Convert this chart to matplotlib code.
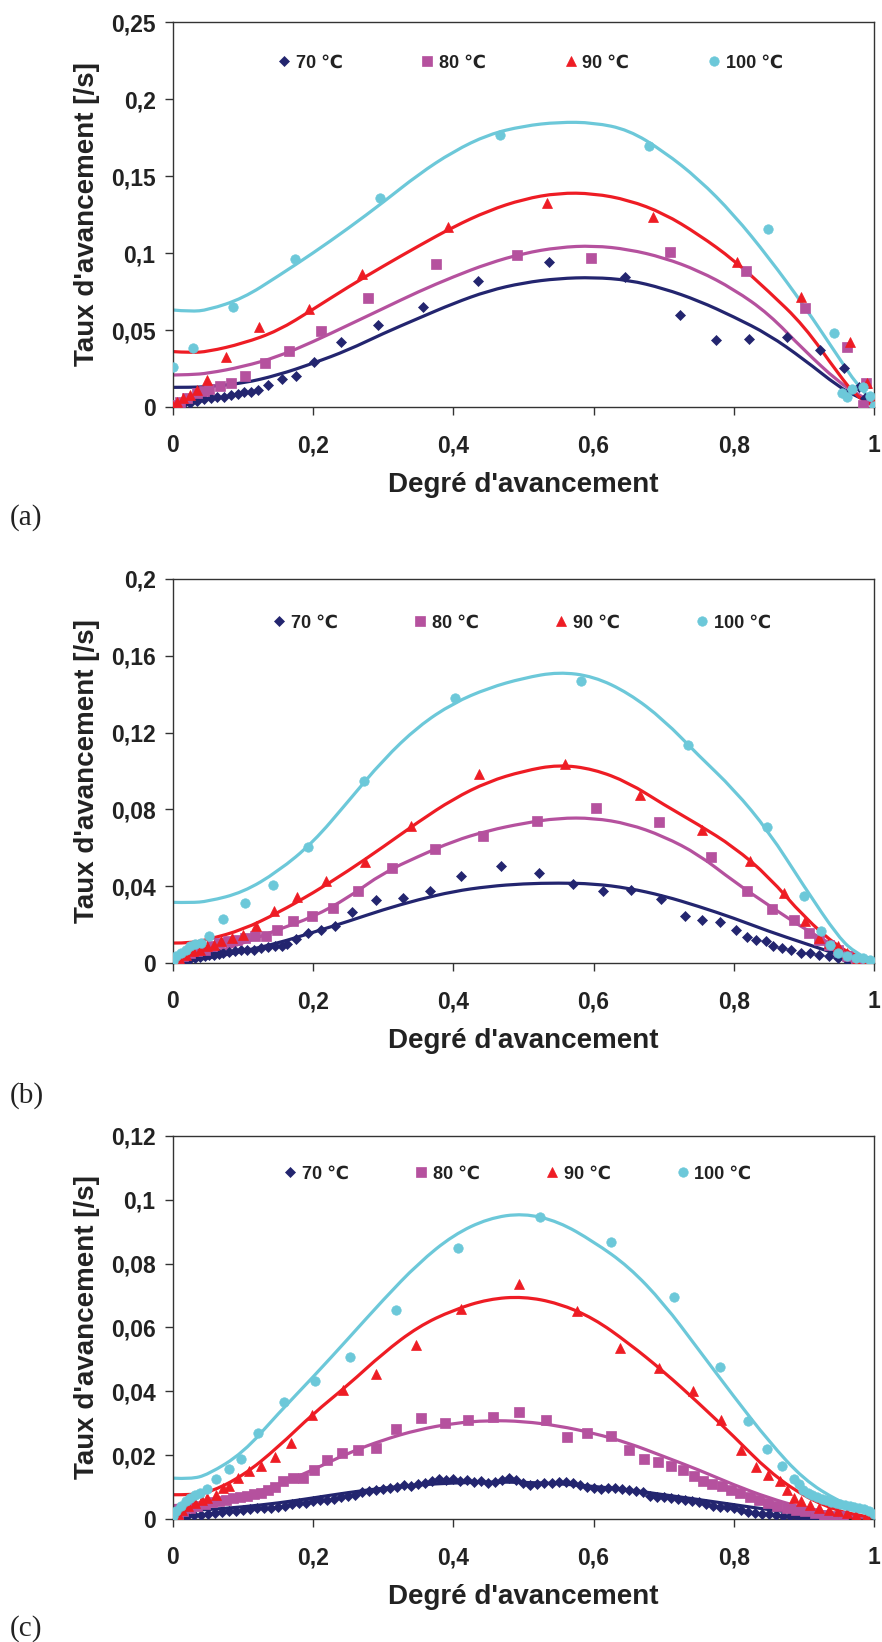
import matplotlib
matplotlib.use('Agg')
import matplotlib.pyplot as plt
from matplotlib.path import Path
from matplotlib.patches import PathPatch

# Fonts: Arial-like bold, DejaVu as fallback for the ℃ sign
plt.rcParams['font.family'] = ['Liberation Sans', 'DejaVu Sans']
plt.rcParams['font.weight'] = 'bold'

# Colours of the four temperatures
c70 = '#23256F'
c80 = '#B5519E'
c90 = '#EE1C24'
c100 = '#6CC8D9'

labels = ['70 ℃', '80 ℃', '90 ℃', '100 ℃']
x_ticks = [0, 0.2, 0.4, 0.6, 0.8, 1.0]

# x positions where the fitted curves were read
fit_x = [0, 0.025, 0.05, 0.1, 0.15, 0.2, 0.25, 0.3, 0.35, 0.4, 0.45, 0.5,
         0.55, 0.6, 0.65, 0.7, 0.75, 0.8, 0.85, 0.9, 0.95, 0.975, 1.0]

# ---------------- panel (a) ----------------
a_x70 = [0.004, 0.014, 0.024, 0.034, 0.044, 0.054, 0.063, 0.073, 0.083, 0.093, 0.102,
         0.112, 0.121, 0.135, 0.155, 0.175, 0.201, 0.24, 0.293, 0.356, 0.435, 0.536,
         0.645, 0.724, 0.775, 0.822, 0.876, 0.923, 0.957, 0.978, 0.987]
a_y70 = [0.0006, 0.002, 0.0028, 0.0039, 0.005, 0.0056, 0.0063, 0.0067, 0.0076, 0.0084, 0.0095,
         0.010, 0.011, 0.0143, 0.018, 0.0204, 0.0294, 0.042, 0.0533, 0.0652, 0.0818, 0.094,
         0.0842, 0.0598, 0.0435, 0.0442, 0.0457, 0.037, 0.0251, 0.0132, 0.0056]
a_x80 = [0.0, 0.01, 0.02, 0.034, 0.044, 0.052, 0.067, 0.083, 0.103, 0.131, 0.165,
         0.211, 0.278, 0.375, 0.491, 0.596, 0.709, 0.818, 0.902, 0.961, 0.988, 0.985]
a_y80 = [0.0013, 0.0035, 0.0056, 0.0089, 0.0106, 0.0115, 0.0136, 0.0154, 0.0204, 0.0288, 0.0364,
         0.0496, 0.0706, 0.0927, 0.0987, 0.097, 0.1005, 0.0883, 0.0641, 0.0392, 0.0154, 0.0013]
a_x90 = [0.0, 0.006, 0.014, 0.024, 0.034, 0.048, 0.075, 0.123, 0.194, 0.27, 0.393,
         0.533, 0.685, 0.805, 0.896, 0.966, 0.99, 1.0]
a_y90 = [0.001, 0.0035, 0.0056, 0.0078, 0.011, 0.0175, 0.0327, 0.0522, 0.0636, 0.0862, 0.117,
         0.1327, 0.1236, 0.0944, 0.0717, 0.042, 0.0154, 0.0024]
a_x100 = [0.0, 0.029, 0.085, 0.174, 0.296, 0.467, 0.679, 0.849, 0.943, 0.955, 0.961,
          0.968, 0.985, 0.994, 1.0]
a_y100 = [0.0262, 0.0385, 0.065, 0.0959, 0.136, 0.1766, 0.1697, 0.1154, 0.0483, 0.0089, 0.0063,
          0.0115, 0.0128, 0.0071, 0.0006]

a_f70 = [0.0128, 0.0128, 0.0132, 0.0154, 0.0208, 0.0284, 0.037, 0.0478, 0.0576, 0.0673, 0.0755, 0.0807,
         0.0835, 0.0842, 0.0825, 0.077, 0.069, 0.0586, 0.047, 0.031, 0.013, 0.007, 0.002]
a_f80 = [0.0208, 0.021, 0.0219, 0.0262, 0.0327, 0.0424, 0.0532, 0.064, 0.0749, 0.0846, 0.0933, 0.0998,
         0.1037, 0.1048, 0.1024, 0.097, 0.0885, 0.0765, 0.0605, 0.037, 0.016, 0.009, 0.002]
a_f90 = [0.036, 0.0353, 0.036, 0.0413, 0.0495, 0.0635, 0.078, 0.0915, 0.1045, 0.117, 0.1275, 0.135,
         0.139, 0.1387, 0.1344, 0.1258, 0.112, 0.0955, 0.075, 0.053, 0.021, 0.007, 0.0005]
a_f100 = [0.063, 0.062, 0.063, 0.0706, 0.085, 0.1, 0.116, 0.133, 0.151, 0.166, 0.177, 0.1825,
          0.185, 0.1847, 0.180, 0.166, 0.148, 0.125, 0.097, 0.066, 0.032, 0.015, 0.003]

# ---------------- panel (b) ----------------
b_x70 = [0.0, 0.005, 0.012, 0.019, 0.025, 0.032, 0.039, 0.045, 0.052, 0.058,
         0.065, 0.072, 0.08, 0.088, 0.097, 0.106, 0.116, 0.125, 0.135, 0.145,
         0.155, 0.163, 0.176, 0.193, 0.211, 0.231, 0.255, 0.29, 0.328, 0.366,
         0.411, 0.468, 0.522, 0.57, 0.613, 0.654, 0.696, 0.73, 0.754, 0.781,
         0.803, 0.819, 0.832, 0.846, 0.856, 0.869, 0.882, 0.896, 0.909, 0.922,
         0.936, 0.949, 0.962, 0.975]
b_y70 = [0.0, 0.0003, 0.0009, 0.0017, 0.0021, 0.0026, 0.0031, 0.0035, 0.004, 0.0043,
         0.0049, 0.0052, 0.0056, 0.0061, 0.0066, 0.0069, 0.0069, 0.0078, 0.0083, 0.0087,
         0.009, 0.010, 0.0127, 0.0156, 0.0174, 0.0194, 0.0266, 0.0326, 0.0339, 0.0373,
         0.0455, 0.0507, 0.0469, 0.0411, 0.0377, 0.0382, 0.0335, 0.0247, 0.0222, 0.0214,
         0.0174, 0.0135, 0.0122, 0.0113, 0.009, 0.0078, 0.0069, 0.0052, 0.0052, 0.0043,
         0.0035, 0.0026, 0.0017, 0.0009]
b_x80 = [0.0, 0.007, 0.015, 0.025, 0.035, 0.045, 0.055, 0.065, 0.078, 0.092,
         0.103, 0.117, 0.133, 0.149, 0.171, 0.199, 0.228, 0.264, 0.312, 0.374,
         0.442, 0.519, 0.603, 0.694, 0.767, 0.819, 0.854, 0.886, 0.908, 0.921,
         0.936, 0.949, 0.962, 0.975, 0.989]
b_y80 = [0.0009, 0.0017, 0.0035, 0.0052, 0.0061, 0.0069, 0.0087, 0.0104, 0.0113, 0.0122,
         0.013, 0.0139, 0.0139, 0.017, 0.022, 0.0247, 0.0286, 0.0373, 0.0495, 0.0594,
         0.0663, 0.0738, 0.0807, 0.0734, 0.0552, 0.0373, 0.0283, 0.0226, 0.0156, 0.0122,
         0.0095, 0.0069, 0.0035, 0.0017, 0.0009]
b_x90 = [0.0, 0.009, 0.019, 0.029, 0.039, 0.049, 0.058, 0.068, 0.084, 0.1,
         0.118, 0.144, 0.177, 0.219, 0.274, 0.34, 0.437, 0.559, 0.666, 0.755,
         0.823, 0.872, 0.902, 0.922, 0.936, 0.949, 0.962, 0.975, 0.989]
b_y90 = [0.0, 0.0026, 0.0043, 0.0061, 0.0069, 0.0087, 0.0095, 0.0113, 0.013, 0.0148,
         0.0194, 0.0269, 0.0342, 0.0425, 0.0524, 0.0715, 0.0984, 0.1036, 0.0877, 0.0691,
         0.053, 0.0365, 0.022, 0.013, 0.0104, 0.0087, 0.0052, 0.0009, 0.0]
b_x100 = [0.0, 0.005, 0.012, 0.019, 0.025, 0.032, 0.04, 0.052, 0.072, 0.103,
          0.142, 0.193, 0.273, 0.402, 0.582, 0.735, 0.847, 0.9, 0.924, 0.937,
          0.949, 0.962, 0.975, 0.985, 0.995]
b_y100 = [0.0009, 0.0035, 0.0052, 0.0069, 0.0087, 0.01, 0.0104, 0.0142, 0.0229, 0.0312,
          0.0408, 0.0602, 0.0946, 0.1378, 0.1467, 0.1137, 0.0707, 0.0347, 0.0165, 0.0095,
          0.0052, 0.0035, 0.0026, 0.0026, 0.0017]

b_f70 = [0.0, 0.0013, 0.0026, 0.0061, 0.0104, 0.016, 0.0217, 0.0278, 0.033, 0.0373, 0.0399, 0.0413,
         0.0417, 0.0413, 0.039, 0.035, 0.0295, 0.0234, 0.0165, 0.0104, 0.0043, 0.002, 0.0003]
b_f80 = [0.0, 0.002, 0.0043, 0.0104, 0.0174, 0.024, 0.034, 0.047, 0.0555, 0.0635, 0.069, 0.0728,
         0.0755, 0.0755, 0.0725, 0.066, 0.0565, 0.0425, 0.03, 0.018, 0.0075, 0.0035, 0.0009]
b_f90 = [0.0104, 0.0104, 0.0122, 0.0174, 0.0262, 0.0365, 0.048, 0.0605, 0.0735, 0.0855, 0.0945, 0.1,
         0.1033, 0.101, 0.094, 0.0825, 0.072, 0.0605, 0.045, 0.024, 0.008, 0.004, 0.001]
b_f100 = [0.0316, 0.0314, 0.0321, 0.0368, 0.0477, 0.0628, 0.0842, 0.1059, 0.1233, 0.1354, 0.1432, 0.1484,
          0.1516, 0.1493, 0.1406, 0.1267, 0.108, 0.0905, 0.0685, 0.04, 0.013, 0.005, 0.001]

# ---------------- panel (c) ----------------
c_x70 = [0.0, 0.01, 0.02, 0.03, 0.04, 0.05, 0.06, 0.07, 0.08, 0.09,
         0.1, 0.11, 0.12, 0.13, 0.14, 0.15, 0.16, 0.17, 0.18, 0.19,
         0.2, 0.21, 0.22, 0.23, 0.24, 0.25, 0.26, 0.27, 0.28, 0.29,
         0.3, 0.31, 0.32, 0.33, 0.34, 0.35, 0.36, 0.37, 0.38, 0.39,
         0.4, 0.41, 0.42, 0.43, 0.44, 0.45, 0.46, 0.47, 0.48, 0.49,
         0.5, 0.51, 0.52, 0.53, 0.54, 0.55, 0.56, 0.57, 0.58, 0.59,
         0.6, 0.61, 0.62, 0.63, 0.64, 0.65, 0.66, 0.67, 0.68, 0.69,
         0.7, 0.71, 0.72, 0.73, 0.74, 0.75, 0.76, 0.77, 0.78, 0.79,
         0.8, 0.81, 0.82, 0.83, 0.84, 0.85, 0.86, 0.87, 0.88, 0.89,
         0.9, 0.91, 0.92]
c_y70 = [0.0003, 0.0006, 0.0009, 0.0012, 0.0014, 0.0017, 0.0019, 0.0021, 0.0024, 0.0025,
         0.0028, 0.003, 0.0033, 0.0034, 0.0036, 0.0039, 0.0042, 0.0046, 0.0049, 0.0051,
         0.0055, 0.006, 0.0058, 0.0063, 0.0068, 0.0072, 0.0074, 0.0084, 0.0089, 0.0092,
         0.0094, 0.0098, 0.0101, 0.0106, 0.0104, 0.011, 0.0113, 0.0118, 0.0124, 0.0122,
         0.0126, 0.0119, 0.0121, 0.0116, 0.0118, 0.0114, 0.0117, 0.0122, 0.0127, 0.0121,
         0.0112, 0.0106, 0.011, 0.0113, 0.0112, 0.0115, 0.0116, 0.0112, 0.0105, 0.0101,
         0.0096, 0.0094, 0.0097, 0.0098, 0.0093, 0.009, 0.0088, 0.0085, 0.0072, 0.0068,
         0.007, 0.0066, 0.0063, 0.006, 0.0055, 0.0052, 0.0046, 0.0041, 0.0039, 0.0037,
         0.0033, 0.0027, 0.0023, 0.002, 0.0017, 0.0015, 0.0013, 0.001, 0.0008, 0.0006,
         0.0005, 0.0003, 0.0002]
c_x80 = [0.0, 0.007, 0.015, 0.025, 0.035, 0.045, 0.055, 0.065, 0.075, 0.085,
         0.095, 0.105, 0.115, 0.126, 0.135, 0.145, 0.157, 0.171, 0.185, 0.201,
         0.22, 0.241, 0.264, 0.29, 0.318, 0.354, 0.388, 0.421, 0.456, 0.494,
         0.532, 0.562, 0.59, 0.625, 0.65, 0.672, 0.692, 0.71, 0.728, 0.743,
         0.756, 0.769, 0.783, 0.796, 0.809, 0.823, 0.836, 0.849, 0.862, 0.876,
         0.889, 0.902, 0.916, 0.929, 0.942, 0.956]
c_y80 = [0.0003, 0.0014, 0.0024, 0.0034, 0.0042, 0.0048, 0.0052, 0.0055, 0.0061, 0.0066,
         0.0069, 0.0073, 0.0078, 0.0083, 0.0092, 0.0099, 0.012, 0.013, 0.013, 0.0154,
         0.0184, 0.0207, 0.0217, 0.0224, 0.0282, 0.0316, 0.03, 0.0309, 0.0321, 0.0336,
         0.0309, 0.0257, 0.0271, 0.0261, 0.0215, 0.0189, 0.0178, 0.0167, 0.0154, 0.0134,
         0.0118, 0.0111, 0.0102, 0.0092, 0.0081, 0.0069, 0.0061, 0.005, 0.0042, 0.0034,
         0.0029, 0.0024, 0.0019, 0.0014, 0.001, 0.0008]
c_x90 = [0.0, 0.007, 0.013, 0.022, 0.032, 0.042, 0.049, 0.062, 0.072, 0.08,
         0.093, 0.108, 0.126, 0.145, 0.168, 0.198, 0.242, 0.29, 0.346, 0.411,
         0.494, 0.576, 0.638, 0.693, 0.742, 0.782, 0.811, 0.831, 0.849, 0.866,
         0.876, 0.886, 0.896, 0.909, 0.922, 0.936, 0.949, 0.962, 0.975, 0.989]
c_y90 = [0.0003, 0.0017, 0.0029, 0.004, 0.005, 0.0061, 0.0066, 0.0076, 0.0097, 0.0102,
         0.0128, 0.0149, 0.0167, 0.0193, 0.0238, 0.0327, 0.0405, 0.0455, 0.0545, 0.0657,
         0.0737, 0.0652, 0.0535, 0.0473, 0.04, 0.0311, 0.0215, 0.0163, 0.0139, 0.0118,
         0.0092, 0.0066, 0.0055, 0.0045, 0.0034, 0.0029, 0.0024, 0.0019, 0.0014, 0.0006]
c_x100 = [0.0, 0.005, 0.012, 0.019, 0.025, 0.032, 0.039, 0.049, 0.062, 0.08,
          0.097, 0.122, 0.158, 0.203, 0.253, 0.318, 0.407, 0.524, 0.625, 0.715,
          0.781, 0.821, 0.848, 0.869, 0.886, 0.893, 0.899, 0.906, 0.912, 0.919,
          0.926, 0.932, 0.939, 0.946, 0.952, 0.959, 0.966, 0.972, 0.979, 0.986,
          0.993, 1.0]
c_y100 = [0.0008, 0.0024, 0.004, 0.0055, 0.0066, 0.0076, 0.0083, 0.0094, 0.0125, 0.0157,
          0.0188, 0.0269, 0.0367, 0.0431, 0.0509, 0.0655, 0.085, 0.0945, 0.0868, 0.0695,
          0.0476, 0.0308, 0.022, 0.0167, 0.0125, 0.011, 0.0092, 0.0083, 0.0075, 0.0068,
          0.0062, 0.0058, 0.0054, 0.005, 0.0048, 0.0045, 0.0042, 0.0038, 0.0034, 0.003,
          0.0025, 0.0015]

c_f70 = [0.0029, 0.0029, 0.0029, 0.0038, 0.005, 0.0066, 0.0083, 0.0097, 0.0107, 0.0113, 0.0116, 0.0115,
         0.0111, 0.0102, 0.0092, 0.0076, 0.0061, 0.0045, 0.0029, 0.0017, 0.0006, 0.0003, 0.0]
c_f80 = [0.0042, 0.0045, 0.005, 0.0071, 0.0107, 0.0154, 0.0207, 0.0248, 0.028, 0.03, 0.0309, 0.0306,
         0.0292, 0.0269, 0.0238, 0.0196, 0.0154, 0.0107, 0.0066, 0.0034, 0.0014, 0.0007, 0.0]
c_f90 = [0.0076, 0.0076, 0.0081, 0.0135, 0.0225, 0.033, 0.042, 0.052, 0.0603, 0.0655, 0.0689, 0.0697,
         0.0676, 0.0629, 0.0551, 0.0462, 0.0363, 0.0259, 0.0149, 0.0071, 0.0024, 0.0014, 0.0003]
c_f100 = [0.0128, 0.0125, 0.0139, 0.0207, 0.033, 0.0445, 0.0565, 0.0687, 0.0801, 0.089, 0.0942, 0.0958,
          0.0932, 0.0869, 0.0791, 0.0676, 0.053, 0.0384, 0.0243, 0.0123, 0.0055, 0.0034, 0.0019]

# y axes of the three panels
a_yticks = [0, 0.05, 0.1, 0.15, 0.2, 0.25]
b_yticks = [0, 0.04, 0.08, 0.12, 0.16, 0.2]
c_yticks = [0, 0.02, 0.04, 0.06, 0.08, 0.1, 0.12]


def fr(v):
    # french decimal comma
    return ('%g' % v).replace('.', ',')


def smooth_line(ax, xs, ys, color):
    # quadratic bezier through the read points (points used as control points)
    pts = list(zip(xs, ys))
    verts = [pts[0]]
    codes = [Path.MOVETO]
    for i in range(1, len(pts) - 1):
        mid = ((pts[i][0] + pts[i + 1][0]) / 2, (pts[i][1] + pts[i + 1][1]) / 2)
        verts += [pts[i], mid]
        codes += [Path.CURVE3, Path.CURVE3]
    verts.append(pts[-1])
    codes.append(Path.LINETO)
    ax.add_patch(PathPatch(Path(verts, codes), fill=False, edgecolor=color,
                           lw=2.3, zorder=2, capstyle='round'))


def draw_panel(ax, pts, fits, yticks, leg_x, leg_y, colsp):
    cols = [c70, c80, c90, c100]
    for fy, col in zip(fits, cols):
        smooth_line(ax, fit_x, fy, col)
    marks = ['D', 's', '^', 'o']
    sizes = [5.2, 6.5, 7.5, 6.8]
    for (px, py), col, m, s, lab in zip(pts, cols, marks, sizes, labels):
        ax.plot(px, py, ls='none', marker=m, ms=s, color=col, mec=col, mew=0.5,
                label=lab, zorder=3)

    ax.set_xlim(0, 1)
    ax.set_ylim(0, yticks[-1])
    ax.set_xticks(x_ticks)
    ax.set_xticklabels([fr(v) for v in x_ticks])
    ax.set_yticks(yticks)
    ax.set_yticklabels([fr(v) for v in yticks])
    ax.tick_params(direction='out', length=6, width=1, colors='#333333',
                   labelcolor='#222222', labelsize=16.5)
    ax.tick_params(axis='x', pad=13.5)
    ax.tick_params(axis='y', pad=6.5)
    for sp in ax.spines.values():
        sp.set_color('#333333')
        sp.set_linewidth(1.0)

    ax.set_xlabel("Degré d'avancement", fontsize=20, fontweight='bold', color='#222222')
    ax.set_ylabel("Taux d'avancement [/s]", fontsize=20, fontweight='bold', color='#222222')
    ax.xaxis.set_label_coords(0.5, -0.203)
    ax.yaxis.set_label_coords(-0.123, 0.5)
    ax.xaxis.label.set_va('center')
    ax.yaxis.label.set_va('center')

    leg = ax.legend(loc='center', bbox_to_anchor=(leg_x, leg_y), ncol=4, frameon=False,
                    handlelength=0.8, handletextpad=0.25, columnspacing=colsp,
                    fontsize=13, borderaxespad=0, numpoints=1, borderpad=0)
    for t in leg.get_texts():
        t.set_color('#222222')


fig = plt.figure(figsize=(8.82, 16.42), dpi=100)

ax_a = fig.add_axes([0.1961, 0.7521, 0.7948, 0.2345])
draw_panel(ax_a, [(a_x70, a_y70), (a_x80, a_y80), (a_x90, a_y90), (a_x100, a_y100)],
           [a_f70, a_f80, a_f90, a_f100], a_yticks, 0.509, 0.894, 4.3)

ax_b = fig.add_axes([0.1961, 0.4135, 0.7948, 0.2339])
draw_panel(ax_b, [(b_x70, b_y70), (b_x80, b_y80), (b_x90, b_y90), (b_x100, b_y100)],
           [b_f70, b_f80, b_f90, b_f100], b_yticks, 0.497, 0.885, 4.17)

ax_c = fig.add_axes([0.1961, 0.0749, 0.7948, 0.2333])
draw_panel(ax_c, [(c_x70, c_y70), (c_x80, c_y80), (c_x90, c_y90), (c_x100, c_y100)],
           [c_f70, c_f80, c_f90, c_f100], c_yticks, 0.491, 0.90, 3.6)

# panel letters
for txt, yy in [('(a)', 0.6851), ('(b)', 0.3331), ('(c)', 0.0085)]:
    fig.text(0.030, yy, txt, family='Liberation Serif', fontweight='normal',
             fontsize=21, ha='center', va='center', color='#222222')

fig.savefig('out.png', dpi=100)
